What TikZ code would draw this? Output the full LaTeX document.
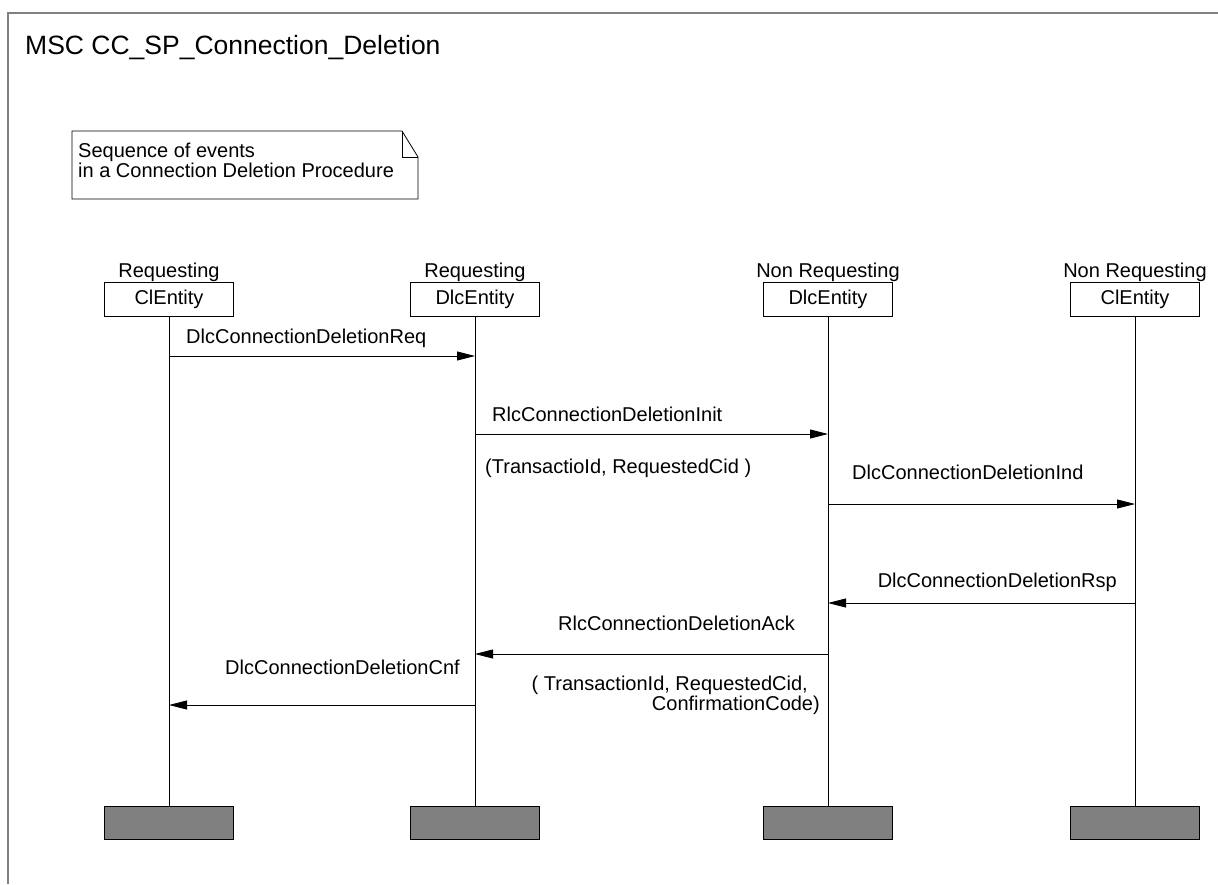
\documentclass[tikz,border=0pt]{standalone}
\usepackage{fontspec}
\setmainfont{Liberation Sans}
\usetikzlibrary{arrows.meta}

\begin{document}
\begin{tikzpicture}[x=1pt,y=-1pt,>={Triangle[length=18pt,width=9pt]},
    txt/.style={inner sep=0pt,font=\fontsize{20}{21}\selectfont},
    entity/.style={draw,line width=0.8pt,minimum width=129pt,minimum height=34pt,inner sep=0pt,font=\fontsize{20}{21}\selectfont},
    stopbox/.style={draw,line width=0.8pt,fill=black!50,minimum width=129pt,minimum height=33pt},
    msg/.style={->,line width=0.8pt}]
    \useasboundingbox (0,0) rectangle (1218,884);
    \draw[gray,line width=1.5pt] (8,884) -- (8,13) -- (1218,13);
    \node[txt,anchor=base west,font=\fontsize{26.5}{30}\selectfont] (title) at (25,54) {MSC CC\_SP\_Connection\_Deletion};
    \draw[line width=0.8pt] (72,131) -- (402,131) -- (418,157) -- (418,199) -- (72,199) -- cycle;
    \draw[line width=0.8pt] (402,131) -- (402,157) -- (418,157);
    \node[txt,anchor=base west] (note1) at (78,157) {Sequence of events};
    \node[txt,anchor=base west] (note2) at (78,177) {in a Connection Deletion Procedure};
    \foreach \n/\x/\role/\kind in {rcl/169/Requesting/ClEntity,rdlc/475/Requesting/DlcEntity,ndlc/828/Non Requesting/DlcEntity,ncl/1135/Non Requesting/ClEntity}{
        \node[entity,label={[txt,label distance=0pt]above:\role}] (\n) at (\x,299) {\kind};
        \node[stopbox] (\n end) at (\x,822.5) {};
        \draw[line width=0.8pt] (\n) -- (\n end);
    }
    \foreach \a/\b/\y in {rcl/rdlc/356,rdlc/ndlc/434,ndlc/ncl/504,ncl/ndlc/603,ndlc/rdlc/654,rdlc/rcl/705}{
        \draw[msg] (\a |- 0,\y) -- (\b |- 0,\y);
    }
    \node[txt,anchor=base west] (req) at (186,343) {DlcConnectionDeletionReq};
    \node[txt,anchor=base west] (init) at (492,421) {RlcConnectionDeletionInit};
    \node[txt,anchor=base west] (initpar) at (485,473) {(TransactioId, RequestedCid )};
    \node[txt,anchor=base west] (ind) at (852,479) {DlcConnectionDeletionInd};
    \node[txt,anchor=base east] (rsp) at (1117,587) {DlcConnectionDeletionRsp};
    \node[txt,anchor=base west] (ack) at (558,630) {RlcConnectionDeletionAck};
    \node[txt,anchor=base east] (ackpar1) at (808,690) {( TransactionId, RequestedCid,};
    \node[txt,anchor=base east] (ackpar2) at (820,710) {ConfirmationCode)};
    \node[txt,anchor=base west] (cnf) at (225,674) {DlcConnectionDeletionCnf};
\end{tikzpicture}
\end{document}
